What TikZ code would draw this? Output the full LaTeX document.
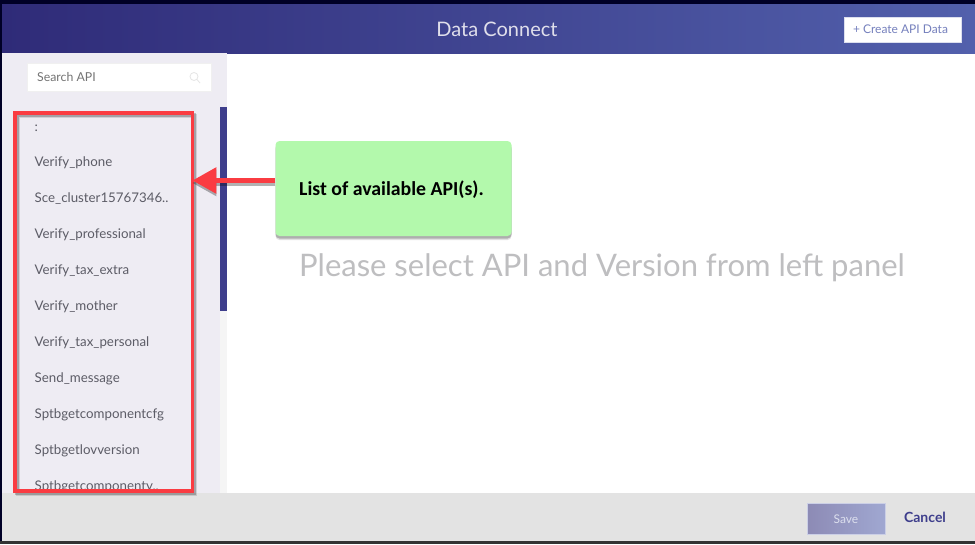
\documentclass[tikz,border=0pt]{standalone}
\usepackage{fontspec}
\setmainfont{Lato}
\newfontfamily\calloutfont{Carlito}
\usetikzlibrary{shadows,arrows.meta}
\definecolor{headleft}{RGB}{47,43,120}
\definecolor{headright}{RGB}{82,96,172}
\definecolor{sidegray}{RGB}{238,236,243}
\definecolor{scrollblue}{RGB}{62,62,140}
\definecolor{barred}{RGB}{250,60,66}
\definecolor{calloutgreen}{RGB}{179,249,172}
\definecolor{listtext}{RGB}{92,92,102}
\definecolor{hinttext}{RGB}{190,190,192}
\tikzstyle{apiitem}=[anchor=west, inner sep=0pt, font=\fontsize{13.3}{15}\selectfont, text=listtext]
\tikzstyle{redbox}=[draw=barred, line width=3.3pt,
  drop shadow={shadow xshift=3pt, shadow yshift=-3pt, fill=none, draw=black, opacity=.12},
  drop shadow={shadow xshift=2pt, shadow yshift=-2pt, fill=none, draw=black, opacity=.22}]
\tikzstyle{callout}=[fill=calloutgreen, rounded corners=4pt,
  drop shadow={shadow xshift=0pt, shadow yshift=-4pt, fill=black, opacity=.12},
  drop shadow={shadow xshift=0pt, shadow yshift=-2.5pt, fill=black, opacity=.22}]
\begin{document}
\begin{tikzpicture}[x=1pt, y=-1pt]
    \useasboundingbox (0,0) rectangle (975,544);
    % window frame and the main panels
    \fill[white] (0,0) rectangle (975,544);
    \fill[black!85!blue] (0,0) rectangle (975,4);
    \fill[black!85!blue] (0,4) rectangle (2,544);
    \shade[left color=headleft, right color=headright] (2,4) rectangle (975,53);
    \fill[sidegray] (2,53) rectangle (227,493);
    \fill[black!4] (220,311) rectangle (227,493);
    \fill[scrollblue] (220,107) rectangle (227,311);
    \fill[black!11] (2,493) rectangle (975,541);
    \fill[black!80] (0,541) rectangle (975,544);

    % header
    \node[text=white!85!headleft, font=\fontsize{20}{24}\selectfont] (title) at (497,29) {Data Connect};
    \node[fill=white, draw=white!80!headright, minimum width=117pt, minimum height=25pt, inner sep=0pt, text=headright!80, font=\fontsize{12}{14}\selectfont] (create) at (902.5,29.5) {+ Create API Data\hspace*{4pt}};

    % search box
    \node[fill=white, draw=black!6, minimum width=184pt, minimum height=28pt, inner sep=0pt] (search) at (119.5,77) {};
    \node[anchor=west, inner sep=0pt, text=black!55, font=\fontsize{12.3}{14}\selectfont] (searchtext) at (37,77) {Search API};
    \draw[black!10, line width=.8pt] (194,76.5) circle (4pt);
    \draw[black!10, line width=.8pt] (197,79.5) -- (200,83);

    % api list, the last one is cut off by the box
    \begin{scope}
      \clip (15,112) rectangle (192,490);
      \foreach \y/\t in {128/:, 163/Verify\_phone, 199/Sce\_cluster15767346.., 235/Verify\_professional,
        271/Verify\_tax\_extra, 307/Verify\_mother, 343/Verify\_tax\_personal, 379/Send\_message,
        415/Sptbgetcomponentcfg, 451/Sptbgetlovversion, 487/Sptbgetcomponenty..}{
        \node[apiitem] at (34.5,\y) {\t};
      }
    \end{scope}

    % red frame round the list
    \node[redbox, minimum width=177.3pt, minimum height=378.2pt, inner sep=0pt, outer sep=0pt] (apilist) at (103.7,302) {};

    % callout and its arrow
    \node[callout, minimum width=236pt, minimum height=95pt, inner sep=0pt] (note) at (393.5,188.5) {};
    \node[font=\calloutfont\bfseries\fontsize{19.8}{22}\selectfont, text=black] (notetext) at (391.5,189.5) {List of available API(s).};
    \coordinate (arrowstart) at (note.west |- 0,180.5);
    \coordinate (arrowend) at (apilist.east |- 0,180.5);
    \draw[black, opacity=.3, line width=5.5pt, -{Triangle[length=24pt,width=25pt]}, transform canvas={yshift=-2.5pt}] (arrowstart) -- (arrowend);
    \draw[barred, line width=5.5pt, -{Triangle[length=24pt,width=25pt]}] (arrowstart) -- (arrowend);

    % hint text
    \node[text=hinttext, font=\fontsize{31}{36}\selectfont] (hint) at (602,268) {Please select API and Version from left panel};

    % bottom buttons
    \node[left color=headleft!55!white, right color=headright!55!white, draw=white!70!headright, minimum width=78pt, minimum height=31pt, inner sep=0pt, text=white!80!headright, font=\fontsize{12}{14}\selectfont] (save) at (846,519) {Save};
    \node[text=scrollblue, font=\bfseries\fontsize{14}{18}\selectfont] (cancel) at (925,517) {Cancel};
  \end{tikzpicture}
\end{document}
